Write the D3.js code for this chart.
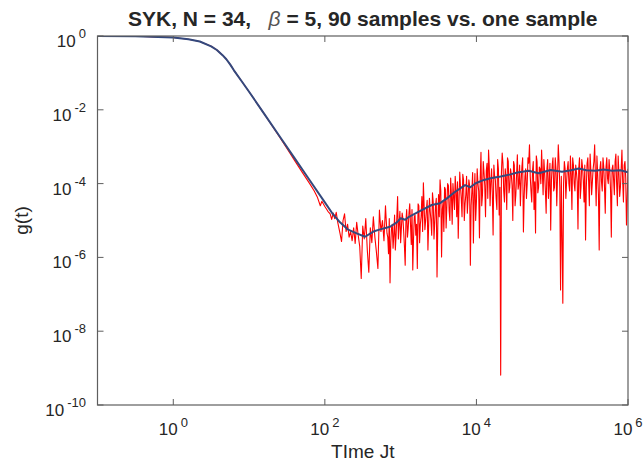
<!DOCTYPE html>
<html>
<head>
<meta charset="utf-8">
<script src="https://cdn.jsdelivr.net/npm/d3@7"></script>
<style>
  body { margin: 0; background: #fff; }
  text { font-family: "Liberation Sans", Arial, Helvetica, sans-serif; fill: #262626; }
</style>
</head>
<body>
<script>
var width = 643,
    height = 461;

// average over 90 samples : [log10(t), log10(g)]
var blueLogT = [-1, -0.5, 0, 0.2, 0.35, 0.5, 0.575, 0.65, 0.7, 0.75, 0.8, 0.9, 1.0, 1.2, 1.4,
    1.6, 1.8, 2.0, 2.1, 2.2, 2.3, 2.42, 2.53, 2.64, 2.73, 2.86, 2.95, 3.0, 3.06, 3.11, 3.24,
    3.41, 3.52, 3.61, 3.72, 3.85, 3.92, 3.99, 4.1, 4.2, 4.32, 4.45, 4.54, 4.69, 4.82, 4.98,
    5.13, 5.25, 5.35, 5.45, 5.57, 5.68, 5.79, 5.9, 6.0];
var blueLogG = [0, -0.005, -0.04, -0.09, -0.15, -0.28, -0.38, -0.52, -0.63, -0.77, -0.93, -1.22, -1.51, -2.11, -2.71,
    -3.31, -3.91, -4.51, -4.81, -5.05, -5.24, -5.35, -5.44, -5.30, -5.24, -5.17, -5.05, -4.94, -4.98, -4.90, -4.76,
    -4.58, -4.53, -4.40, -4.22, -4.04, -4.10, -3.99, -3.90, -3.85, -3.81, -3.75, -3.70, -3.65, -3.72, -3.63,
    -3.68, -3.64, -3.59, -3.64, -3.65, -3.62, -3.65, -3.64, -3.69];

// one sample, early decay : [log10(t), log10(g)]
var redDecay = [[-1, 0], [-0.5, -0.005], [0, -0.04], [0.2, -0.09], [0.35, -0.15], [0.5, -0.28],
    [0.575, -0.38], [0.65, -0.52], [0.7, -0.63], [0.75, -0.77], [0.8, -0.93], [0.9, -1.22], [1.0, -1.51],
    [1.2, -2.11], [1.4, -2.73], [1.5, -3.05], [1.6, -3.37], [1.7, -3.69], [1.8, -4.00], [1.86, -4.20],
    [1.9, -4.36], [1.94, -4.60], [1.96, -4.48], [2.0, -4.62], [2.04, -4.75], [2.07, -4.82], [2.09, -4.97],
    [2.11, -4.80], [2.13, -4.95], [2.15, -4.78], [2.17, -5.05]];

// one sample, noisy part : [log10(t), log10(g)]
var redNoise = [
    [2.20, -5.35], [2.22, -5.57], [2.24, -5.00], [2.26, -4.82], [2.28, -5.30], [2.30, -5.10], [2.32, -5.45],
    [2.34, -5.30], [2.36, -5.55], [2.38, -5.20], [2.40, -5.62], [2.42, -5.05], [2.44, -5.40], [2.46, -5.70],
    [2.48, -6.57], [2.50, -5.15], [2.52, -5.50], [2.54, -4.95], [2.56, -5.80], [2.58, -6.40], [2.60, -5.20],
    [2.62, -5.60], [2.64, -4.90], [2.66, -5.45], [2.68, -5.85], [2.70, -6.30], [2.72, -4.72], [2.74, -5.30],
    [2.76, -5.00], [2.78, -5.55], [2.80, -4.60], [2.82, -5.35], [2.84, -5.90], [2.86, -6.69], [2.88, -5.20],
    [2.90, -5.75], [2.92, -4.85], [2.94, -5.40], [2.96, -4.35], [2.98, -5.10],
    [3.00, -5.60], [3.02, -4.80], [3.04, -5.30], [3.06, -6.21], [3.08, -4.70], [3.10, -5.20], [3.12, -4.55],
    [3.14, -5.65], [3.16, -6.34], [3.18, -4.90], [3.20, -5.40], [3.22, -6.30], [3.24, -4.60], [3.26, -5.10],
    [3.28, -4.35], [3.30, -3.98], [3.32, -5.25], [3.34, -4.70], [3.36, -5.80], [3.38, -4.40], [3.40, -5.00],
    [3.42, -4.25], [3.44, -5.50], [3.46, -4.60], [3.48, -6.53], [3.50, -4.30], [3.52, -3.90], [3.54, -5.99],
    [3.56, -4.50], [3.58, -4.10], [3.60, -5.20], [3.62, -4.00], [3.64, -4.75], [3.66, -3.85], [3.68, -5.10],
    [3.70, -4.35], [3.72, -3.80], [3.74, -4.90], [3.76, -5.48], [3.78, -3.69], [3.80, -4.40], [3.82, -3.75],
    [3.84, -5.00],
    [3.86, -4.30], [3.88, -4.80], [3.90, -3.90], [3.92, -6.21], [3.94, -4.20], [3.96, -5.61], [3.98, -3.73],
    [4.00, -4.50], [4.02, -4.00], [4.04, -5.47], [4.06, -3.15], [4.08, -4.30], [4.10, -3.70], [4.12, -4.90],
    [4.14, -3.45], [4.16, -3.09], [4.18, -4.60], [4.20, -3.60], [4.22, -5.39], [4.24, -3.80], [4.26, -4.40],
    [4.28, -3.35], [4.30, -4.85], [4.32, -9.19], [4.34, -3.17], [4.36, -4.20], [4.38, -3.60], [4.40, -4.70],
    [4.42, -3.40], [4.44, -4.10], [4.46, -3.75], [4.48, -5.00], [4.50, -3.50], [4.52, -4.30], [4.54, -3.22],
    [4.56, -4.00], [4.58, -4.60], [4.60, -3.55], [4.62, -5.31], [4.64, -3.80], [4.66, -4.40], [4.68, -3.30],
    [4.70, -2.95], [4.72, -4.20], [4.74, -3.65], [4.76, -4.70], [4.78, -5.34], [4.80, -3.40], [4.82, -4.10],
    [4.84, -3.60],
    [4.86, -3.09], [4.88, -4.30], [4.90, -3.70], [4.92, -4.80], [4.94, -3.35], [4.96, -4.00], [4.98, -5.26],
    [5.00, -3.50], [5.02, -4.20], [5.04, -3.30], [5.06, -4.60], [5.08, -2.95], [5.10, -4.10], [5.11, -6.88],
    [5.12, -3.80], [5.14, -7.24], [5.16, -3.40], [5.18, -4.40], [5.20, -3.60], [5.22, -4.00], [5.24, -3.25],
    [5.26, -4.70], [5.28, -3.50], [5.30, -4.20], [5.32, -3.70], [5.34, -5.23], [5.36, -3.30], [5.38, -4.10],
    [5.40, -3.55], [5.42, -4.50], [5.44, -5.53], [5.46, -3.45], [5.48, -3.90], [5.50, -3.20], [5.52, -4.30],
    [5.54, -3.60], [5.56, -2.95], [5.58, -4.60], [5.60, -3.75], [5.62, -5.80], [5.64, -3.40], [5.66, -4.20],
    [5.68, -3.55], [5.70, -4.80], [5.72, -3.30], [5.74, -4.00], [5.76, -3.65], [5.78, -5.45], [5.80, -3.50],
    [5.82, -4.30], [5.84, -3.20], [5.86, -4.60], [5.88, -3.70], [5.90, -4.10], [5.92, -3.09], [5.94, -4.50],
    [5.96, -3.40], [5.98, -5.12], [6.00, -3.60]];

// one sample, in-between samples of the dense part : [log10(t), log10(g)]
var redNoiseFill = [
    [2.81, -5.00], [2.83, -5.45], [2.85, -4.95], [2.87, -5.60], [2.89, -5.10], [2.91, -5.40], [2.93, -5.80],
    [2.95, -4.90], [2.97, -5.50], [2.99, -4.75], [3.01, -5.20], [3.03, -4.95], [3.05, -5.70], [3.07, -5.00],
    [3.09, -5.45], [3.11, -4.80], [3.13, -5.10], [3.15, -4.70], [3.17, -5.50], [3.19, -4.85], [3.21, -5.10],
    [3.23, -4.55], [3.25, -5.60], [3.27, -4.90], [3.29, -5.30], [3.31, -4.60], [3.33, -5.00], [3.35, -4.45],
    [3.37, -5.10], [3.39, -4.75], [3.41, -5.40], [3.43, -4.50], [3.45, -5.05], [3.47, -4.40], [3.49, -5.20],
    [3.51, -4.90], [3.53, -4.20], [3.55, -4.70], [3.57, -5.30], [3.59, -4.15], [3.61, -4.60], [3.63, -4.05],
    [3.65, -5.00], [3.67, -4.30], [3.69, -4.00], [3.71, -4.70], [3.73, -4.20], [3.75, -3.95], [3.77, -4.50],
    [3.79, -4.10], [3.81, -4.90], [3.83, -3.90], [3.85, -4.55], [3.87, -3.80], [3.89, -4.40], [3.91, -4.05],
    [3.93, -4.60], [3.95, -3.70], [3.97, -4.35], [3.99, -5.00], [4.01, -3.60], [4.03, -4.20], [4.05, -3.85],
    [4.07, -4.60], [4.09, -3.40], [4.11, -4.05], [4.13, -3.65], [4.15, -4.40], [4.17, -3.55], [4.19, -3.95],
    [4.21, -4.30], [4.23, -3.50], [4.25, -3.90], [4.27, -4.70], [4.29, -3.60], [4.31, -4.10], [4.33, -3.70],
    [4.35, -3.45], [4.37, -4.50], [4.39, -3.85], [4.41, -3.30], [4.43, -4.25], [4.45, -3.60], [4.47, -4.05],
    [4.49, -3.40], [4.51, -4.60], [4.53, -3.75], [4.55, -4.15], [4.57, -3.50], [4.59, -3.95], [4.61, -3.30],
    [4.63, -4.35], [4.65, -3.60], [4.67, -4.00], [4.69, -3.45], [4.71, -3.80], [4.73, -4.50], [4.75, -3.40],
    [4.77, -3.95], [4.79, -3.25], [4.81, -4.25], [4.83, -3.55], [4.85, -4.00], [4.87, -3.70], [4.89, -3.35],
    [4.91, -4.20], [4.93, -3.60], [4.95, -4.40], [4.97, -3.45], [4.99, -3.90], [5.01, -3.30], [5.03, -4.10],
    [5.05, -3.60], [5.07, -3.85], [5.09, -3.40], [5.15, -4.00], [5.17, -3.60], [5.19, -3.95], [5.21, -3.40],
    [5.23, -4.20], [5.25, -3.75], [5.27, -3.30], [5.29, -4.00], [5.31, -3.50], [5.33, -3.95], [5.35, -3.60],
    [5.37, -4.40], [5.39, -3.35], [5.41, -3.90], [5.43, -3.50], [5.45, -4.10], [5.47, -3.30], [5.49, -4.60],
    [5.51, -3.65], [5.53, -3.95], [5.55, -3.40], [5.57, -3.80], [5.59, -3.25], [5.61, -4.30], [5.63, -3.60],
    [5.65, -3.95], [5.67, -3.30], [5.69, -4.10], [5.71, -3.55], [5.73, -3.85], [5.75, -3.35], [5.77, -4.20],
    [5.79, -3.60], [5.81, -3.90], [5.83, -3.40], [5.85, -4.00], [5.87, -3.25], [5.89, -4.35], [5.91, -3.60],
    [5.93, -3.95], [5.95, -3.50], [5.97, -3.85], [5.99, -4.40]];

// tick exponents
var xTickExp = [0, 2, 4, 6];
var yTickExp = [0, -2, -4, -6, -8, -10];

var svg = d3.select("body").append("svg")
    .attr("width", width)
    .attr("height", height);

svg.append("rect").attr("width", width).attr("height", height).attr("fill", "#fff");

// plot box (window.top is read-only, so no "top" variable here)
var pL = 97.5, pR = 628, pT = 36, pB = 405;

var x = d3.scaleLog().domain([0.1, 1e6]).range([pL, pR]);
var y = d3.scaleLog().domain([1e-10, 1]).range([pB, pT]);

svg.append("clipPath").attr("id", "clip")
    .append("rect")
    .attr("x", pL).attr("y", pT)
    .attr("width", pR - pL).attr("height", pB - pT);

var line = d3.line()
    .x(d => x(Math.pow(10, d[0])))
    .y(d => y(Math.pow(10, d[1])));

var redData = redDecay.concat(redNoise, redNoiseFill).sort((a, b) => a[0] - b[0]);
var blueData = blueLogT.map((t, i) => [t, blueLogG[i]]);

var plot = svg.append("g").attr("clip-path", "url(#clip)");

plot.append("path")
    .datum(redData)
    .attr("d", line)
    .attr("fill", "none")
    .attr("stroke", "#ff0000")
    .attr("stroke-width", 1.1)
    .attr("stroke-linejoin", "round");

plot.append("path")
    .datum(blueData)
    .attr("d", line)
    .attr("fill", "none")
    .attr("stroke", "#34497d")
    .attr("stroke-width", 2)
    .attr("stroke-linejoin", "round");

// box + ticks (MATLAB style, ticks inside on all four sides)
var axisCol = "#5e5e5e";
var ax = svg.append("g");
ax.append("rect")
    .attr("x", pL).attr("y", pT)
    .attr("width", pR - pL).attr("height", pB - pT)
    .attr("fill", "none").attr("stroke", axisCol).attr("stroke-width", 1.2);

var tl = 6;
xTickExp.forEach(function (e) {
    var px = x(Math.pow(10, e));
    ax.append("line").attr("x1", px).attr("x2", px).attr("y1", pB).attr("y2", pB - tl)
        .attr("stroke", axisCol);
    ax.append("line").attr("x1", px).attr("x2", px).attr("y1", pT).attr("y2", pT + tl)
        .attr("stroke", axisCol);
    var t = ax.append("text")
        .attr("x", px).attr("y", 435)
        .attr("text-anchor", "middle");
    t.append("tspan").style("font-size", "17px").text("10");
    t.append("tspan").style("font-size", "13px").attr("dx", 3).attr("dy", -8).text(e);
});

yTickExp.forEach(function (e) {
    var py = y(Math.pow(10, e));
    ax.append("line").attr("x1", pL).attr("x2", pL + tl).attr("y1", py).attr("y2", py)
        .attr("stroke", axisCol);
    ax.append("line").attr("x1", pR).attr("x2", pR - tl).attr("y1", py).attr("y2", py)
        .attr("stroke", axisCol);
    var t = ax.append("text")
        .attr("x", 86).attr("y", py + 11)
        .attr("text-anchor", "end");
    t.append("tspan").style("font-size", "17px").text("10");
    t.append("tspan").style("font-size", "13px").attr("dx", 3).attr("dy", -9).text(e);
});

// title
var title = svg.append("text")
    .attr("x", (pL + pR) / 2).attr("y", 26)
    .attr("text-anchor", "middle")
    .style("font-size", "21px")
    .style("font-weight", "bold")
    .style("white-space", "pre");
title.append("tspan").text("SYK, N = 34,   ");
title.append("tspan").style("font-style", "italic").style("font-weight", "normal")
    .style("fill", "#555").text("\u03B2");
title.append("tspan").text(" = 5, 90 samples vs. one sample");

// axis labels
svg.append("text")
    .attr("x", (pL + pR) / 2).attr("y", 458)
    .attr("text-anchor", "middle")
    .style("font-size", "19px")
    .text("TIme Jt");

svg.append("text")
    .attr("transform", "translate(28," + ((pT + pB) / 2) + ") rotate(-90)")
    .attr("text-anchor", "middle")
    .style("font-size", "19px")
    .text("g(t)");
</script>
</body>
</html>
